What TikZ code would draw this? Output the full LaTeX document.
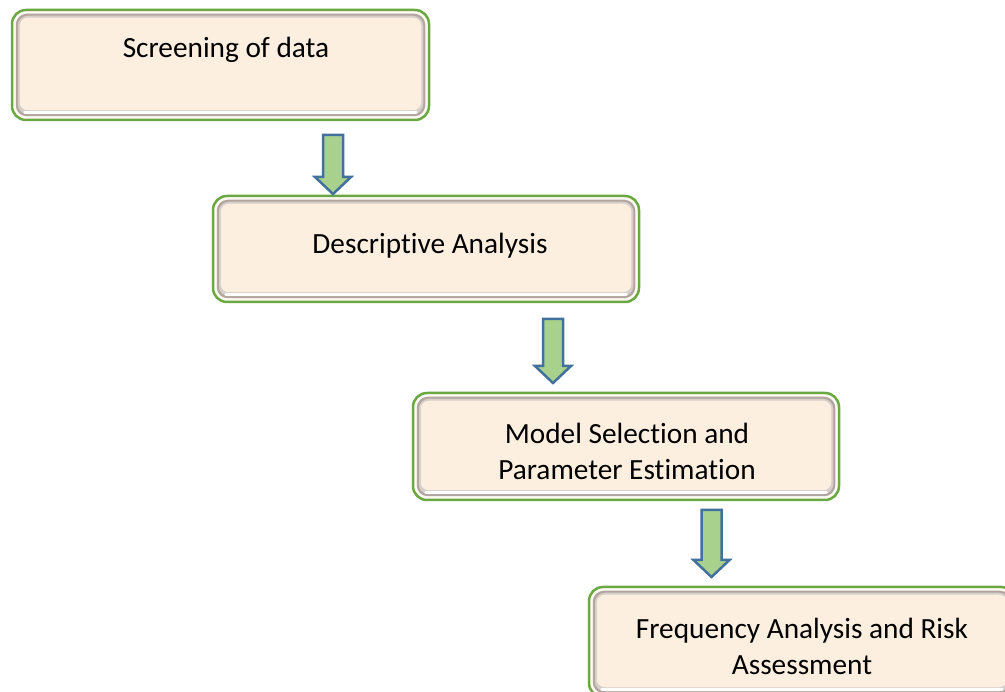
\documentclass[tikz,border=0pt]{standalone}
\usepackage{fontspec}
\setmainfont{Carlito}[Ligatures=NoCommon]
\usetikzlibrary{positioning}

\definecolor{boxgreen}{HTML}{6AA842}
\definecolor{boxcream}{HTML}{FFFAF4}
\definecolor{boxfill}{HTML}{FDEFE0}
\definecolor{bevel}{HTML}{B3A59E}
\definecolor{arrowfill}{HTML}{A9D18E}
\definecolor{arrowline}{HTML}{41719C}

\tikzset{
  stepbox/.style={draw=boxgreen, line width=2.5pt, fill=boxcream, rounded corners=14pt,
    minimum height=108pt, inner sep=0pt},
  steptext/.style={align=center, font=\fontsize{29.3}{36}\selectfont},
  % block arrow pointing down, #1 = length
  pics/downarrow/.style={code={
    \draw[arrowline, fill=arrowfill, line width=2.5pt, line join=miter]
      (-10,0) -- (-10,#1-17) -- (-18,#1-17) -- (0,#1) -- (18,#1-17) -- (10,#1-17) -- (10,0) -- cycle;
  }}
}

\newcommand{\bevelbox}[1]{%
  \fill[bevel, rounded corners=11pt] ([shift={(5,5)}]#1.north west) rectangle ([shift={(-5,-5)}]#1.south east);
  \fill[bevel!55!white, rounded corners=10pt] ([shift={(7,7)}]#1.north west) rectangle ([shift={(-7,-7)}]#1.south east);
  \fill[boxfill, rounded corners=8pt] ([shift={(9,9)}]#1.north west) rectangle ([shift={(-9,-11)}]#1.south east);
  \draw[white, line width=3pt, line cap=round] ([shift={(14,-9)}]#1.south west) -- ([shift={(-14,-9)}]#1.south east);
}

\begin{document}
\begin{tikzpicture}[x=1pt, y=-1pt]
  \useasboundingbox (0,0) rectangle (1005,692);

  % the four steps
  \node[stepbox, minimum width=417pt, minimum height=110pt] (screen) at (220.5,65) {};
  \node[stepbox, minimum width=426pt, minimum height=106pt] (descr) at (426,249) {};
  \node[stepbox, minimum width=426pt, minimum height=107pt] (model) at (626,446.5) {};
  \node[stepbox, minimum width=426pt, minimum height=110pt] (freq) at (802,642) {};
  \foreach \b in {screen, descr, model, freq} {\bevelbox{\b}}

  \node[steptext] (screentxt) at (226,49.5) {Screening of data};
  \node[steptext] (descrtxt) at (430,245.5) {Descriptive Analysis};
  \node[steptext] (modeltxt) at (627,451) {Model Selection and\\Parameter Estimation};
  \node[steptext] (freqtxt) at (802,646) {Frequency Analysis and Risk\\Assessment};

  % arrows between steps
  \pic at (333,135) {downarrow=59};
  \pic at (553,319) {downarrow=64};
  \pic at (711.5,510) {downarrow=67};
\end{tikzpicture}
\end{document}
